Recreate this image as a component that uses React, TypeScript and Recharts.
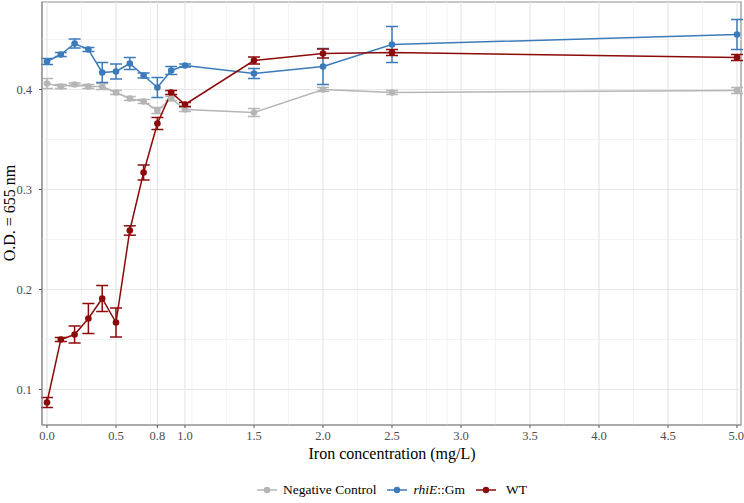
import { LineChart, Line, XAxis, YAxis, ErrorBar, ReferenceLine, ReferenceArea, Legend } from "recharts";

// Iron concentration (mg/L)
const concentrations = [0, 0.1, 0.2, 0.3, 0.4, 0.5, 0.6, 0.7, 0.8, 0.9, 1.0, 1.5, 2.0, 2.5, 5.0];

// O.D. 655 nm means and error (half-width)
const negControl = [0.406, 0.403, 0.405, 0.403, 0.403, 0.397, 0.391, 0.388, 0.379, 0.391, 0.38, 0.377, 0.4, 0.397, 0.399];
const negControlErr = [0.005, 0.002, 0.0015, 0.002, 0.003, 0.002, 0.002, 0.002, 0.003, 0.002, 0.002, 0.004, 0.002, 0.002, 0.003];
const rhiE = [0.428, 0.435, 0.446, 0.44, 0.417, 0.418, 0.426, 0.414, 0.402, 0.419, 0.424, 0.416, 0.423, 0.445, 0.455];
const rhiEErr = [0.003, 0.002, 0.0045, 0.002, 0.01, 0.0075, 0.006, 0.0025, 0.01, 0.004, 0.0015, 0.005, 0.018, 0.018, 0.015];
const wt = [0.087, 0.15, 0.155, 0.171, 0.191, 0.167, 0.259, 0.317, 0.366, 0.397, 0.385, 0.429, 0.436, 0.437, 0.432];
const wtErr = [0.005, 0.002, 0.0085, 0.015, 0.013, 0.0145, 0.0047, 0.0075, 0.006, 0.002, 0.002, 0.0035, 0.0045, 0.003, 0.003];

const xTicks = [0, 0.5, 0.8, 1.0, 1.5, 2.0, 2.5, 3.0, 3.5, 4.0, 4.5, 5.0];
const xMinor = [0.25, 0.75, 1.05, 1.3, 1.75, 2.25, 2.75, 2.9, 3.25, 3.75, 4.25, 4.75];
const yTicks = [0.1, 0.2, 0.3, 0.4];
const yMinor = [0.15, 0.25, 0.35, 0.45];

const X_DOMAIN: [number, number] = [-0.0362, 5.029];
const Y_DOMAIN: [number, number] = [0.0645, 0.4875];

const GREY = "#b5b5b5";
const BLUE = "#3b7bbb";
const RED = "#8b0a0a";
const FONT = "Liberation Serif, DejaVu Serif, serif";

const data = concentrations.map((c, i) => ({
  x: c,
  neg: negControl[i],
  negErr: negControlErr[i],
  rhiE: rhiE[i],
  rhiEErr: rhiEErr[i],
  wt: wt[i],
  wtErr: wtErr[i],
}));

const legendItems = [
  { color: GREY, label: <span>Negative Control</span>, gap: 5 },
  {
    color: BLUE,
    label: (
      <span>
        <i>rhiE</i>::Gm
      </span>
    ),
    gap: 5,
  },
  { color: RED, label: <span>WT</span>, gap: 9 },
];

function LegendContent() {
  return (
    <div style={{ display: "flex", justifyContent: "center", alignItems: "center", fontFamily: FONT, fontSize: 13.5, color: "#000" }}>
      {legendItems.map((it, i) => (
        <div key={i} style={{ display: "flex", alignItems: "center", marginRight: i < legendItems.length - 1 ? 10 : 0 }}>
          <svg width={22} height={10} style={{ marginRight: it.gap }}>
            <line x1={1} y1={5} x2={21} y2={5} stroke={it.color} strokeWidth={1.5} />
            <circle cx={11} cy={5} r={3.2} fill={it.color} />
          </svg>
          {it.label}
        </div>
      ))}
    </div>
  );
}

export default function App() {
  return (
    <div style={{ position: "absolute", left: 0, top: 0, fontFamily: FONT }}>
      <LineChart width={744} height={503} data={data} margin={{ top: 2, right: 3, left: 0, bottom: 0 }} style={{ fontFamily: FONT }}>
        {yMinor.map((v) => (
          <ReferenceLine key={"ym" + v} y={v} stroke="#f0f0f0" strokeWidth={0.8} />
        ))}
        {xMinor.map((v) => (
          <ReferenceLine key={"xm" + v} x={v} stroke="#f0f0f0" strokeWidth={0.8} />
        ))}
        {yTicks.map((v) => (
          <ReferenceLine key={"y" + v} y={v} stroke="#e6e6e6" strokeWidth={1.2} />
        ))}
        {xTicks.map((v) => (
          <ReferenceLine key={"x" + v} x={v} stroke="#e6e6e6" strokeWidth={1.2} />
        ))}
        <ReferenceArea x1={X_DOMAIN[0]} x2={X_DOMAIN[1]} y1={Y_DOMAIN[0]} y2={Y_DOMAIN[1]} fill="none" stroke="#8f8f8f" strokeWidth={1.2} fillOpacity={0} />
        <XAxis
          dataKey="x"
          type="number"
          domain={X_DOMAIN}
          ticks={xTicks}
          tickFormatter={(v: number) => v.toFixed(1)}
          allowDataOverflow
          height={78}
          tickSize={3}
          tickMargin={3}
          stroke="#8f8f8f"
          tick={{ fill: "#4d4d4d", fontSize: 12.5, fontFamily: FONT }}
          tickLine={{ stroke: "#555" }}
          label={{
            content: () => (
              <text x={392} y={459} textAnchor="middle" style={{ fontFamily: FONT }} fontSize={16} fill="#000">
                Iron concentration (mg/L)
              </text>
            ),
          }}
        />
        <YAxis
          type="number"
          domain={Y_DOMAIN}
          ticks={yTicks}
          tickFormatter={(v: number) => v.toFixed(1)}
          allowDataOverflow
          width={42}
          tickSize={3}
          tickMargin={7}
          stroke="#8f8f8f"
          tick={{ fill: "#4d4d4d", fontSize: 12.5, fontFamily: FONT }}
          tickLine={{ stroke: "#555" }}
          label={{
            content: () => (
              <text x={15} y={213} transform="rotate(-90 15 213)" textAnchor="middle" style={{ fontFamily: FONT }} fontSize={16} fill="#000">
                O.D. = 655 nm
              </text>
            ),
          }}
        />
        <Legend
          layout="horizontal"
          verticalAlign="middle"
          align="center"
          wrapperStyle={{ top: 482, left: 42, width: 699 }}
          content={() => <LegendContent />}
        />
        <Line
          dataKey="neg"
          stroke={GREY}
          strokeWidth={1.5}
          dot={{ r: 3.3, fill: GREY, stroke: GREY, strokeWidth: 0 }}
          isAnimationActive={false}
        >
          <ErrorBar dataKey="negErr" width={6} stroke={GREY} strokeWidth={1.5} isAnimationActive={false} />
        </Line>
        <Line
          dataKey="rhiE"
          stroke={BLUE}
          strokeWidth={1.5}
          dot={{ r: 3.3, fill: BLUE, stroke: BLUE, strokeWidth: 0 }}
          isAnimationActive={false}
        >
          <ErrorBar dataKey="rhiEErr" width={6} stroke={BLUE} strokeWidth={1.5} isAnimationActive={false} />
        </Line>
        <Line
          dataKey="wt"
          stroke={RED}
          strokeWidth={1.5}
          dot={{ r: 3.3, fill: RED, stroke: RED, strokeWidth: 0 }}
          isAnimationActive={false}
        >
          <ErrorBar dataKey="wtErr" width={6} stroke={RED} strokeWidth={1.5} isAnimationActive={false} />
        </Line>
      </LineChart>
    </div>
  );
}
